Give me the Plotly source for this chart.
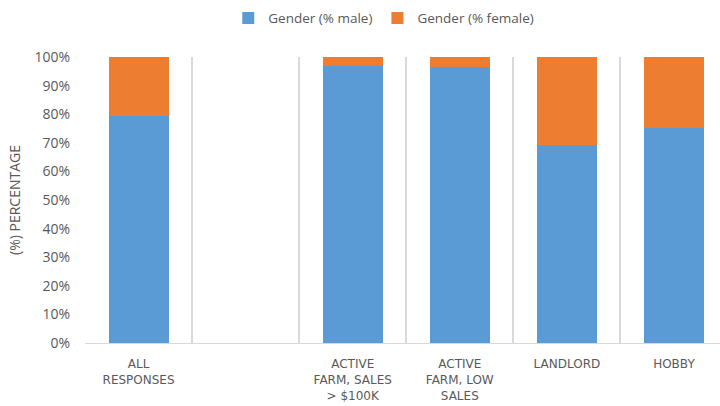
import plotly.graph_objects as go

categories = ["ALL<br>RESPONSES", " ", "ACTIVE<br>FARM, SALES<br>> $100K",
              "ACTIVE<br>FARM, LOW<br>SALES", "LANDLORD", "HOBBY"]
male = [0.795, None, 0.97, 0.965, 0.693, 0.752]
female = [0.205, None, 0.03, 0.035, 0.307, 0.248]
y_ticks = [0, 0.1, 0.2, 0.3, 0.4, 0.5, 0.6, 0.7, 0.8, 0.9, 1.0]

fig = go.Figure()
fig.add_trace(go.Bar(x=categories, y=male, name="Gender (% male)",
                     marker=dict(color="#5B9BD5", line=dict(width=0))))
fig.add_trace(go.Bar(x=categories, y=female, name="Gender (% female)",
                     marker=dict(color="#ED7D31", line=dict(width=0))))

gray = "#595959"
fig.update_layout(
    width=720, height=406,
    barmode="stack", bargap=0.44,
    plot_bgcolor="white", paper_bgcolor="white",
    margin=dict(l=85, r=0, t=57, b=63, autoexpand=False),
    font=dict(family="Open Sans", color=gray, size=13),
    legend=dict(orientation="h", x=0.533, xanchor="center", xref="container",
                y=0.955, yanchor="middle", yref="container",
                font=dict(size=13.5, color=gray),
                itemwidth=30, traceorder="normal"),
    xaxis=dict(type="category", range=[-0.5, 5.43], tickson="boundaries",
               showgrid=True, gridcolor="#D9D9D9", gridwidth=2,
               showline=True, linecolor="#D9D9D9", linewidth=1,
               ticks="", ticklabelstandoff=10, automargin=False,
               tickfont=dict(family="DejaVu Sans", size=12, color=gray)),
    yaxis=dict(range=[0, 1], tickvals=y_ticks, tickformat=".0%",
               showgrid=False, zeroline=False, showline=False, automargin=False,
               ticklabelstandoff=14, tickfont=dict(size=14, color=gray),
               title=dict(text="(%) PERCENTAGE", font=dict(size=14, color=gray), standoff=10)),
)
fig.write_html("out.html", config={"displayModeBar": False},
               post_script="document.body.style.margin='0';")
